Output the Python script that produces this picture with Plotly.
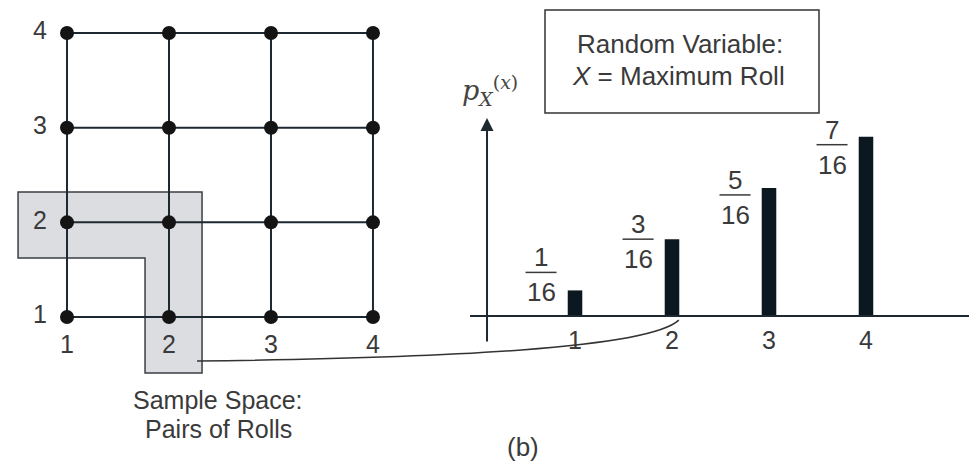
import plotly.graph_objects as go

W, H = 969, 464

# Sample space: ordered pairs of rolls of a four-sided die
rolls = [1, 2, 3, 4]
roll_labels = ["1", "2", "3", "4"]

# PMF of X = maximum roll
x_values = [1, 2, 3, 4]
x_labels = ["1", "2", "3", "4"]
pmf_num = [1, 3, 5, 7]
pmf_den = [16, 16, 16, 16]
pmf = [n / d for n, d in zip(pmf_num, pmf_den)]

# the event {X = 2} highlighted in the sample space
highlight_x = 2

# vertical nudges (px) for the fraction labels beside the bars
frac_shift = [18, 0, -7, -8]

LINE = "#1d2831"
TEXT = "#3a3a3a"
FONT = "Liberation Sans, Arial, sans-serif"

# axis ranges / domains (left: grid of pairs, right: PMF stems)
L_DOM = [0, 420 / W]
L_XR = [0.343, 4.461]
L_YR = [-0.553, 4.349]
R_DOM = [420 / W, 1]
R_XR = [-0.598, 5.062]
R_YR = [-0.361, 0.771]


def left_to_paper(x, y):
    px = L_DOM[0] + (x - L_XR[0]) / (L_XR[1] - L_XR[0]) * (L_DOM[1] - L_DOM[0])
    py = (y - L_YR[0]) / (L_YR[1] - L_YR[0])
    return px, py


def right_to_paper(x, y):
    px = R_DOM[0] + (x - R_XR[0]) / (R_XR[1] - R_XR[0]) * (R_DOM[1] - R_DOM[0])
    py = (y - R_YR[0]) / (R_YR[1] - R_YR[0])
    return px, py


def pix(px, py):
    return px / W, 1 - py / H


fig = go.Figure()

# grid lines of the sample space
gx, gy = [], []
for r in rolls:
    gx += [rolls[0], rolls[-1], None]
    gy += [r, r, None]
    gx += [r, r, None]
    gy += [rolls[0], rolls[-1], None]
fig.add_trace(go.Scatter(x=gx, y=gy, mode="lines", line=dict(color=LINE, width=2),
                         hoverinfo="skip", showlegend=False, xaxis="x", yaxis="y"))

# outcome points
px_, py_ = [], []
for a in rolls:
    for b in rolls:
        px_.append(a)
        py_.append(b)
fig.add_trace(go.Scatter(x=px_, y=py_, mode="markers",
                         marker=dict(size=14, color="#141414"),
                         showlegend=False, xaxis="x", yaxis="y"))

# roll labels for the grid
fig.add_trace(go.Scatter(x=[0.735] * len(rolls), y=rolls, mode="text", text=roll_labels,
                         textfont=dict(size=25, color=TEXT, family=FONT),
                         showlegend=False, xaxis="x", yaxis="y"))
fig.add_trace(go.Scatter(x=rolls, y=[0.683] * len(rolls), mode="text", text=roll_labels,
                         textfont=dict(size=25, color=TEXT, family=FONT),
                         showlegend=False, xaxis="x", yaxis="y"))

# PMF bars
fig.add_trace(go.Bar(x=x_values, y=pmf, width=0.15, marker=dict(color="#0b1820", line=dict(width=0)),
                     showlegend=False, xaxis="x2", yaxis="y2"))

# x labels of the PMF
fig.add_trace(go.Scatter(x=x_values, y=[-0.066] * len(x_values), mode="text", text=x_labels,
                         textfont=dict(size=25, color=TEXT, family=FONT),
                         showlegend=False, xaxis="x2", yaxis="y2"))

shapes = []
annotations = []

# highlighted L-shaped event {max = 2}
h = highlight_x
xl, xr, xa = 0.52, h + 0.324, h - 0.235
yt, yi, yb = h + 0.32, h - 0.377, 1 - 0.592
shapes.append(dict(type="path", xref="x", yref="y", layer="below",
                   path=f"M {xl},{yt} L {xr},{yt} L {xr},{yb} L {xa},{yb} L {xa},{yi} L {xl},{yi} Z",
                   fillcolor="#dcdde0", line=dict(color="#3a3f44", width=1.5)))

# horizontal axis of the PMF
shapes.append(dict(type="line", xref="x2", yref="y2", x0=-0.082, x1=5.07, y0=0, y1=0,
                   line=dict(color=LINE, width=2)))

# vertical axis arrow
annotations.append(dict(xref="x2", yref="y2", axref="x2", ayref="y2",
                        x=0.093, y=0.483, ax=0.093, ay=-0.066, text="",
                        showarrow=True, arrowhead=2, arrowsize=1.3, arrowwidth=2,
                        arrowcolor=LINE))
annotations.append(dict(xref="x2", yref="y2", x=0.125, y=0.55, showarrow=False,
                        xanchor="center", yanchor="middle",
                        text="<i>p</i><sub><i>X</i></sub><sup>(<i>x</i>)</sup>",
                        font=dict(size=27, color="#444444", family="DejaVu Serif, serif")))

# fraction labels next to each bar
for k, n, d, v, s in zip(x_values, pmf_num, pmf_den, pmf, frac_shift):
    cx = k - 0.35
    fy = v + s / 410.0
    shapes.append(dict(type="line", xref="x2", yref="y2", x0=k - 0.51, x1=k - 0.19,
                       y0=fy, y1=fy, line=dict(color=TEXT, width=1.5)))
    annotations.append(dict(xref="x2", yref="y2", x=cx, y=fy, yshift=15, showarrow=False,
                            xanchor="center", yanchor="middle",
                            text=str(n), font=dict(size=26, color=TEXT, family=FONT)))
    annotations.append(dict(xref="x2", yref="y2", x=cx, y=fy, yshift=-20, showarrow=False,
                            xanchor="center", yanchor="middle",
                            text=str(d), font=dict(size=26, color=TEXT, family=FONT)))

# connector from the highlighted event to its PMF value
sx, sy = left_to_paper(2.275, 0.535)
ex, ey = right_to_paper(h + 0.07, -0.01)
c1x, c1y = sx + 253 / W, sy + 3 / H
c2x, c2y = ex - 30 / W, ey - 28 / H
shapes.append(dict(type="path", xref="paper", yref="paper",
                   path=f"M {sx},{sy} C {c1x},{c1y} {c2x},{c2y} {ex},{ey}",
                   line=dict(color="#333333", width=1.5)))

# random variable box
bx0, by0 = pix(545, 10)
bx1, by1 = pix(819, 113)
shapes.append(dict(type="rect", xref="paper", yref="paper", x0=bx0, x1=bx1, y0=by1, y1=by0,
                   line=dict(color="#333333", width=1.5), fillcolor="rgba(0,0,0,0)"))
for txt, (x, y), size in [("Random Variable:", pix(680, 44), 26),
                          ("<i>X</i> = Maximum Roll", pix(678, 76), 26),
                          ("Sample Space:", pix(218, 400), 25),
                          ("Pairs of Rolls", pix(218, 429), 25),
                          ("(b)", pix(523, 447), 26)]:
    annotations.append(dict(xref="paper", yref="paper", x=x, y=y, showarrow=False,
                            xanchor="center", yanchor="middle",
                            text=txt, font=dict(size=size, color=TEXT, family=FONT)))

hidden = dict(visible=False, showgrid=False, zeroline=False, fixedrange=True)
fig.update_layout(
    width=W, height=H,
    margin=dict(l=0, r=0, t=0, b=0),
    paper_bgcolor="white", plot_bgcolor="white",
    xaxis=dict(domain=L_DOM, range=L_XR, anchor="y", **hidden),
    yaxis=dict(domain=[0, 1], range=L_YR, anchor="x", **hidden),
    xaxis2=dict(domain=R_DOM, range=R_XR, anchor="y2", **hidden),
    yaxis2=dict(domain=[0, 1], range=R_YR, anchor="x2", **hidden),
    shapes=shapes, annotations=annotations,
    showlegend=False,
)

fig.write_html("out.html")
